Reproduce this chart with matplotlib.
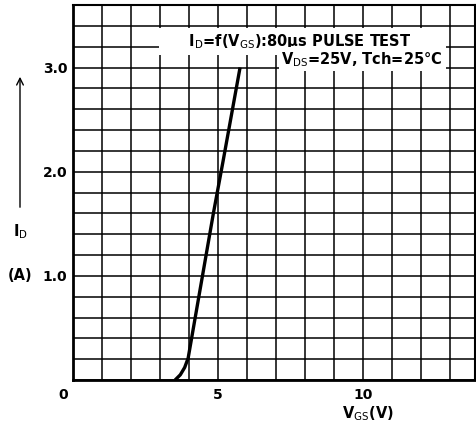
import matplotlib
matplotlib.use('Agg')
import matplotlib.pyplot as plt

# Curva ID = f(VGS)
vgs = [3.52, 3.70, 3.85, 3.97, 4.32, 4.84, 5.18, 5.76]
id_a = [0.0, 0.05, 0.12, 0.21, 0.77, 1.60, 2.11, 3.0]

x_labels = ['5', '10']
x_label_pos = [5, 10]
y_labels = ['1.0', '2.0', '3.0']
y_label_pos = [1, 2, 3]

plt.rcParams['font.family'] = ['DejaVu Sans']

fig = plt.figure(figsize=(4.76, 4.25), dpi=100)
ax = fig.add_axes([73 / 476, 45 / 425, 402 / 476, 375 / 425])
ax.set_xlim(0, 13.86)
ax.set_ylim(0, 3.6)

# rejilla: 1 V y 0.2 A
ax.set_xticks([i for i in range(0, 14)], minor=True)
ax.set_yticks([i * 0.2 for i in range(0, 19)], minor=True)
ax.set_xticks(x_label_pos, x_labels)
ax.set_yticks(y_label_pos, y_labels)
ax.grid(which='both', color='black', linewidth=1.1)
ax.tick_params(which='both', length=0)
ax.tick_params(axis='x', pad=6, labelsize=10)
ax.tick_params(axis='y', pad=4, labelsize=10)
for lbl in ax.get_xticklabels() + ax.get_yticklabels():
    lbl.set_fontweight('bold')
for s in ['left', 'bottom']:
    ax.spines[s].set_linewidth(2)
for s in ['right', 'top']:
    ax.spines[s].set_linewidth(1.5)

ax.plot(vgs, id_a, color='black', linewidth=2.4, solid_capstyle='butt', zorder=5)

ax.text(-0.35, -0.14, '0', ha='center', va='center', fontsize=10, fontweight='bold')

# anotación (los espacios ensanchan el fondo blanco como en el original)
ax.text(3.1, 3.25, r'     I$_{\rm D}$=f(V$_{\rm GS}$):80μs PULSE TEST       ', fontsize=10.5,
        fontweight='bold', ha='left', va='center', zorder=6,
        bbox=dict(facecolor='white', edgecolor='none', pad=3))
ax.text(12.76, 3.08, r'V$_{\rm DS}$=25V, Tch=25°C', fontsize=10.5,
        fontweight='bold', ha='right', va='center', zorder=6,
        bbox=dict(facecolor='white', edgecolor='none', pad=2))

# etiquetas de los ejes
fig.text(368 / 476, 1 - 414 / 425, r'V$_{\rm GS}$(V)', ha='center', va='center', fontsize=10.5, fontweight='bold')
fig.text(20 / 476, 1 - 232 / 425, r'I$_{\rm D}$', ha='center', va='center', fontsize=10.5, fontweight='bold')
fig.text(20 / 476, 1 - 275 / 425, '(A)', ha='center', va='center', fontsize=10.5, fontweight='bold')
fig.add_artist(matplotlib.patches.FancyArrowPatch((20 / 476, 1 - 210 / 425), (20 / 476, 1 - 74 / 425),
                                                  transform=fig.transFigure, arrowstyle='->',
                                                  mutation_scale=12, linewidth=1, color='black'))

fig.savefig('out.png', dpi=100)
